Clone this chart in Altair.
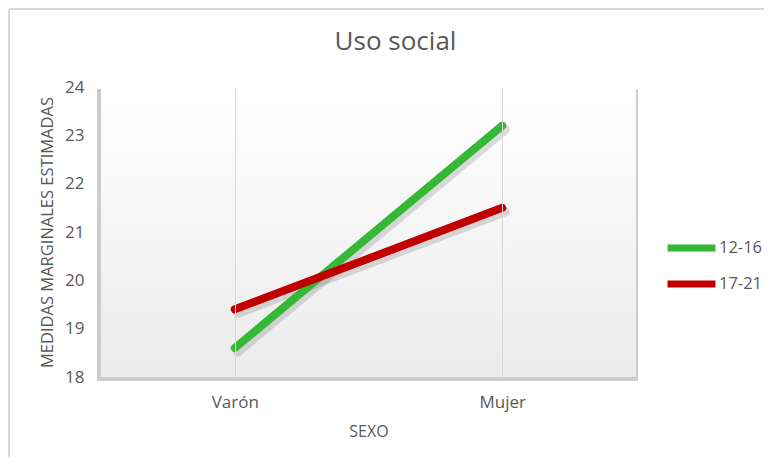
import altair as alt
import pandas as pd

categories = ["Varón", "Mujer"]
series_names = ["12-16", "17-21"]
values_12_16 = [18.6, 23.2]
values_17_21 = [19.4, 21.5]
colors = ["#35b835", "#c00000"]
chart_title = "Uso social"

rows = []
for c, v in zip(categories, values_12_16):
    rows.append({"SEXO": c, "Edad": series_names[0], "Valor": v})
for c, v in zip(categories, values_17_21):
    rows.append({"SEXO": c, "Edad": series_names[1], "Valor": v})
df = pd.DataFrame(rows)

W, H = 535, 290
FONT = "Open Sans"
GRAY = "#595959"

one = pd.DataFrame({"k": [0]})

top_border = alt.Chart(one).mark_rule(color="#d9d9d9", strokeWidth=2).encode(
    x=alt.value(-92), x2=alt.value(680), y=alt.value(-78)
)
left_border = alt.Chart(one).mark_rule(color="#d9d9d9", strokeWidth=2).encode(
    x=alt.value(-92), y=alt.value(-78), y2=alt.value(400)
)
shadow = alt.Chart(one).mark_rect(fill="#9a9a9a", opacity=0.5).encode(
    x=alt.value(-4), x2=alt.value(W + 2), y=alt.value(2), y2=alt.value(H + 4)
)
bg = alt.Chart(one).mark_rect(
    color=alt.Gradient(
        gradient="linear",
        stops=[alt.GradientStop(color="#ffffff", offset=0),
               alt.GradientStop(color="#ebebeb", offset=1)],
        x1=0, x2=0, y1=0, y2=1,
    )
).encode(x=alt.value(0), x2=alt.value(W), y=alt.value(0), y2=alt.value(H))

title_layer = alt.Chart(pd.DataFrame({"t": [chart_title]})).mark_text(
    font=FONT, fontSize=26, color=GRAY, align="center", baseline="middle"
).encode(text="t:N", x=alt.value(W / 2 + 27), y=alt.value(-45))

xenc = alt.X("SEXO:N", sort=categories, title="SEXO",
             scale=alt.Scale(type="point", padding=0.5),
             axis=alt.Axis(grid=True, gridColor="#d9d9d9", domain=False, ticks=False,
                           labelAngle=0, labelPadding=17, titlePadding=13, zindex=1))
yenc = alt.Y("Valor:Q", title="MEDIDAS MARGINALES ESTIMADAS",
             scale=alt.Scale(domain=[18, 24]),
             axis=alt.Axis(values=[18, 19, 20, 21, 22, 23, 24], grid=False, domain=False,
                           ticks=False, labelPadding=17, titlePadding=9, zindex=1))

line_shadow = alt.Chart(df).mark_line(strokeWidth=9, strokeCap="round", color="#666666",
                                      opacity=0.22, xOffset=3, yOffset=4).encode(
    x=xenc, y=yenc, detail="Edad:N"
)
lines = alt.Chart(df).mark_line(strokeWidth=8, strokeCap="round").encode(
    x=xenc, y=yenc,
    color=alt.Color("Edad:N", scale=alt.Scale(domain=series_names, range=colors),
                    legend=alt.Legend(title=None, orient="none", legendX=563, legendY=151,
                                      symbolType="stroke", symbolSize=2300,
                                      symbolStrokeWidth=7, labelFontSize=16.5,
                                      labelColor=GRAY, labelOffset=0, rowPadding=16,
                                      clipHeight=20, labelFont=FONT, zindex=1))
)

chart = alt.layer(top_border, left_border, shadow, bg, title_layer, line_shadow, lines).properties(
    width=W, height=H,
    padding={"left": 93, "top": 79, "right": 128, "bottom": 80},
    autosize=alt.AutoSizeParams(type="none"),
).configure_view(stroke=None).configure_axis(
    labelFont=FONT, titleFont=FONT, labelColor=GRAY, titleColor=GRAY,
    labelFontSize=17, titleFontSize=16, titleFontWeight="normal"
).configure_axisY(titleFontSize=16.5).configure_axisX(labelFontSize=17, titleFontSize=16)

chart.save("out.html", embed_options={"renderer": "svg", "actions": False})
